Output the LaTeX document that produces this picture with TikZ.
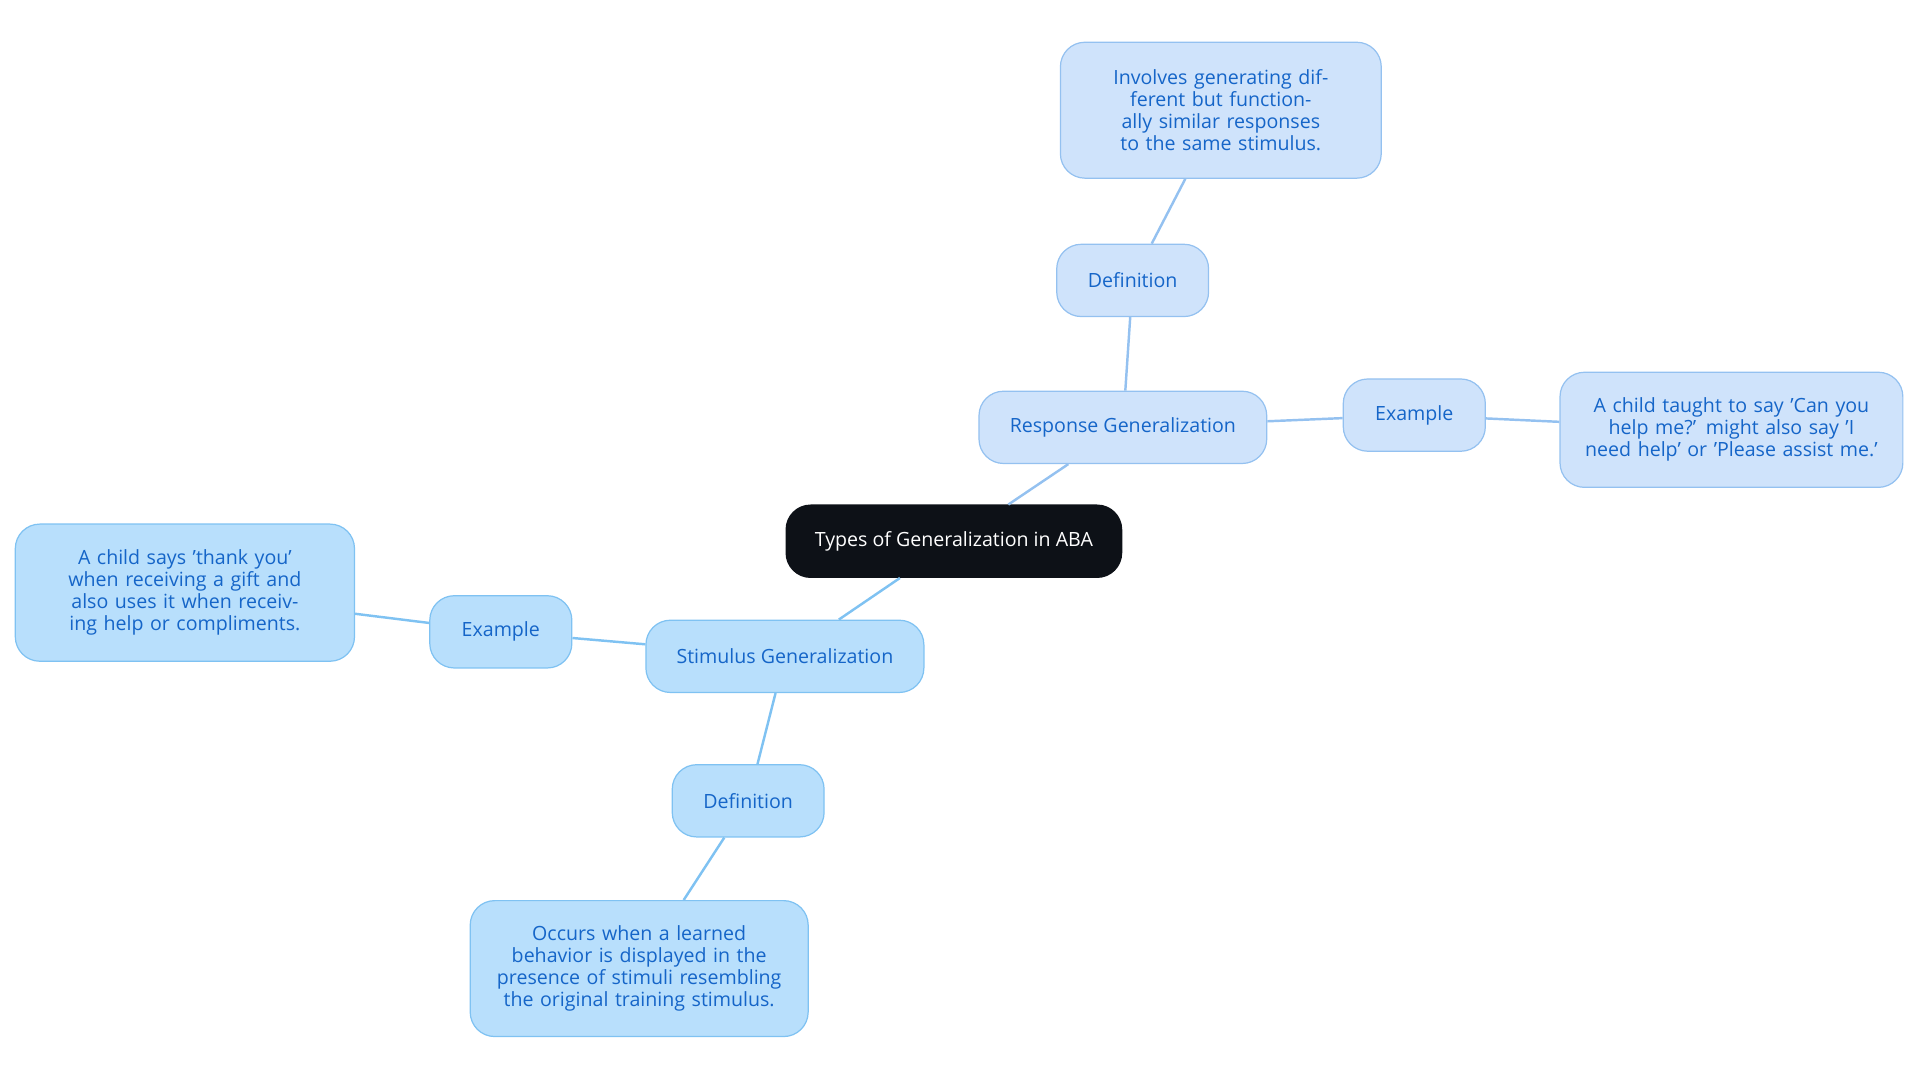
\documentclass[tikz,border=0pt]{standalone}
\usepackage{fontspec}
\setmainfont{Open Sans}
\definecolor{rfill}{HTML}{CFE3FB}\definecolor{rdraw}{HTML}{94C1F0}
\definecolor{sfill}{HTML}{B8DFFC}\definecolor{sdraw}{HTML}{7FC2F2}
\definecolor{txt}{HTML}{1565C8}\definecolor{rootf}{HTML}{0D1117}
\tikzset{
 base/.style={rounded corners=10pt,line width=0.5pt,align=center,font=\fontsize{8}{9}\selectfont,text=txt,inner sep=0pt},
 rbox/.style={base,fill=rfill,draw=rdraw},
 sbox/.style={base,fill=sfill,draw=sdraw},
 rootbox/.style={base,fill=rootf,draw=rootf,text=white},
 redge/.style={draw=rdraw,line width=1pt},
 sedge/.style={draw=sdraw,line width=1pt}}
\begin{document}
\begin{tikzpicture}[x=0.5pt,y=-0.5pt]
\useasboundingbox (0,0) rectangle (1568,884);
\node[rootbox,minimum width=137pt,minimum height=29.5pt] (root) at (779,442) {Types of Generalization in ABA};
\node[rbox,minimum width=117.5pt,minimum height=29.5pt] (rg) at (917,349) {Response Generalization};
\node[rbox,minimum width=62pt,minimum height=29.5pt] (rd) at (925,229) {Definition};
\node[rbox,minimum width=131pt,minimum height=55.5pt,text width=115pt] (rdt) at (997,90) {Involves generating different but functionally similar responses to the same stimulus.};
\node[rbox,minimum width=58pt,minimum height=29.5pt] (re) at (1155,339) {Example};
\node[rbox,minimum width=140pt,minimum height=47pt,text width=122pt] (ret) at (1414,351) {A child taught to say 'Can you help me?' might also say 'I need help' or 'Please assist me.'};
\node[sbox,minimum width=113.5pt,minimum height=29.5pt] (sg) at (641,536) {Stimulus Generalization};
\node[sbox,minimum width=58pt,minimum height=29.5pt] (se) at (409,516) {Example};
\node[sbox,minimum width=138.5pt,minimum height=56pt,text width=120pt] (set) at (151,484) {A child says 'thank you' when receiving a gift and also uses it when receiving help or compliments.};
\node[sbox,minimum width=62pt,minimum height=29.5pt] (sd) at (611,654) {Definition};
\node[sbox,minimum width=138pt,minimum height=55.5pt,text width=118pt] (sdt) at (522,791) {Occurs when a learned behavior is displayed in the presence of stimuli resembling the original training stimulus.};
\draw[redge] (root) -- (rg); \draw[redge] (rg) -- (rd); \draw[redge] (rd) -- (rdt);
\draw[redge] (rg) -- (re); \draw[redge] (re) -- (ret);
\draw[sedge] (root) -- (sg); \draw[sedge] (sg) -- (se); \draw[sedge] (se) -- (set);
\draw[sedge] (sg) -- (sd); \draw[sedge] (sd) -- (sdt);
\end{tikzpicture}
\end{document}
